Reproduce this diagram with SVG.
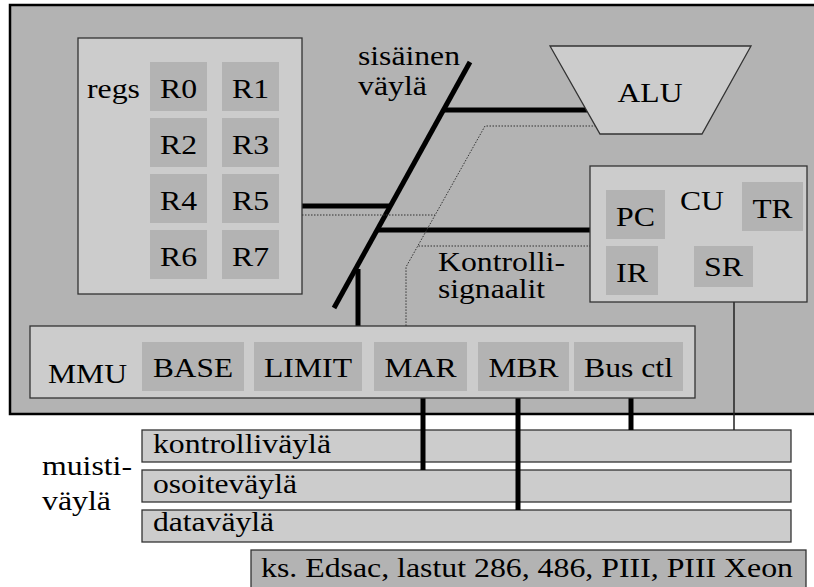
<svg xmlns="http://www.w3.org/2000/svg" width="814" height="587" viewBox="0 0 814 587" font-family="Liberation Serif, Times New Roman, serif" font-size="28">
<rect x="0" y="0" width="814" height="587" fill="#ffffff"/>
<g id="cpu">
<rect x="10" y="5" width="815" height="409" fill="#b3b3b3" stroke="#000" stroke-width="2.5"/>
</g>
<g id="memory-bus">
<g fill="#cccccc" stroke="#333" stroke-width="1.3">
<rect x="142" y="430" width="649" height="32"/>
<rect x="142" y="470" width="649" height="32"/>
<rect x="142" y="510" width="649" height="32"/>
</g>
<text x="153" y="453" textLength="178" lengthAdjust="spacingAndGlyphs">kontrolliv&#228;yl&#228;</text>
<text x="153" y="493" textLength="144" lengthAdjust="spacingAndGlyphs">osoitev&#228;yl&#228;</text>
<text x="153" y="531" textLength="121" lengthAdjust="spacingAndGlyphs">datav&#228;yl&#228;</text>
<text x="42" y="475" textLength="90" lengthAdjust="spacingAndGlyphs">muisti-</text>
<text x="42" y="510" textLength="69" lengthAdjust="spacingAndGlyphs">v&#228;yl&#228;</text>
</g>
<g id="connectors" fill="none">
<g stroke="#000" stroke-width="5">
<line x1="470" y1="62" x2="334" y2="308"/>
<line x1="443" y1="110" x2="592" y2="110"/>
<line x1="300" y1="206" x2="391" y2="206"/>
<line x1="377" y1="230" x2="592" y2="230"/>
<line x1="358" y1="269" x2="358" y2="327"/>
<line x1="631" y1="391" x2="631" y2="430"/>
<line x1="423" y1="391" x2="423" y2="470"/>
<line x1="518" y1="391" x2="518" y2="510"/>
</g>
<g stroke="#333" stroke-width="1" stroke-dasharray="1.5 1.5">
<path d="M596 126 H485 L406 267 V326"/>
<path d="M302 215 H435"/>
<path d="M591 246 H418"/>
</g>
<line x1="734" y1="287" x2="734" y2="430" stroke="#222" stroke-width="1.5"/>
</g>
<g id="regs">
<rect x="78" y="38" width="224" height="256" fill="#cccccc" stroke="#333" stroke-width="1.3"/>
<text x="87" y="98" textLength="53" lengthAdjust="spacingAndGlyphs">regs</text>
<g fill="#b3b3b3">
<rect x="150" y="62" width="57" height="49"/>
<rect x="222" y="62" width="57" height="49"/>
<rect x="150" y="118" width="57" height="49"/>
<rect x="222" y="118" width="57" height="49"/>
<rect x="150" y="174" width="57" height="49"/>
<rect x="222" y="174" width="57" height="49"/>
<rect x="150" y="230" width="57" height="49"/>
<rect x="222" y="230" width="57" height="49"/>
</g>
<g text-anchor="middle">
<text x="178.5" y="98" textLength="37" lengthAdjust="spacingAndGlyphs">R0</text>
<text x="250.5" y="98" textLength="37" lengthAdjust="spacingAndGlyphs">R1</text>
<text x="178.5" y="154" textLength="37" lengthAdjust="spacingAndGlyphs">R2</text>
<text x="250.5" y="154" textLength="37" lengthAdjust="spacingAndGlyphs">R3</text>
<text x="178.5" y="210" textLength="37" lengthAdjust="spacingAndGlyphs">R4</text>
<text x="250.5" y="210" textLength="37" lengthAdjust="spacingAndGlyphs">R5</text>
<text x="178.5" y="266" textLength="37" lengthAdjust="spacingAndGlyphs">R6</text>
<text x="250.5" y="266" textLength="37" lengthAdjust="spacingAndGlyphs">R7</text>
</g>
</g>
<g id="sisainen">
<text x="358" y="65" textLength="102" lengthAdjust="spacingAndGlyphs">sis&#228;inen</text>
<text x="358" y="95" textLength="69" lengthAdjust="spacingAndGlyphs">v&#228;yl&#228;</text>
</g>
<g id="alu">
<polygon points="550,46 751,46 702,134 600,134" fill="#cccccc" stroke="#333" stroke-width="1.3"/>
<text x="650" y="102" text-anchor="middle" textLength="65" lengthAdjust="spacingAndGlyphs">ALU</text>
</g>
<g id="kontrollisignaalit">
<text x="438" y="271" textLength="127" lengthAdjust="spacingAndGlyphs">Kontrolli-</text>
<text x="438" y="298" textLength="107" lengthAdjust="spacingAndGlyphs">signaalit</text>
</g>
<g id="cu">
<rect x="590" y="166" width="217" height="136" fill="#cccccc" stroke="#333" stroke-width="1.3"/>
<g fill="#b3b3b3">
<rect x="606" y="190" width="59" height="49"/>
<rect x="742" y="182" width="61" height="49"/>
<rect x="606" y="246" width="52" height="49"/>
<rect x="694" y="246" width="59" height="41"/>
</g>
<g text-anchor="middle">
<text x="702" y="210" textLength="44" lengthAdjust="spacingAndGlyphs">CU</text>
<text x="635.5" y="226" textLength="39" lengthAdjust="spacingAndGlyphs">PC</text>
<text x="772.5" y="218" textLength="40" lengthAdjust="spacingAndGlyphs">TR</text>
<text x="632" y="282" textLength="32" lengthAdjust="spacingAndGlyphs">IR</text>
<text x="723.5" y="276" textLength="39" lengthAdjust="spacingAndGlyphs">SR</text>
</g>
</g>
<g id="mmu">
<rect x="30" y="326" width="665" height="72" fill="#cccccc" stroke="#333" stroke-width="1.3"/>
<g fill="#b3b3b3">
<rect x="142" y="342" width="102" height="49"/>
<rect x="254" y="342" width="108" height="49"/>
<rect x="374" y="342" width="93" height="49"/>
<rect x="478" y="342" width="91" height="49"/>
<rect x="574" y="342" width="109" height="49"/>
</g>
<text x="48" y="383" textLength="79" lengthAdjust="spacingAndGlyphs">MMU</text>
<g text-anchor="middle">
<text x="193" y="377" textLength="80" lengthAdjust="spacingAndGlyphs">BASE</text>
<text x="308" y="377" textLength="88" lengthAdjust="spacingAndGlyphs">LIMIT</text>
<text x="420.5" y="377" textLength="72" lengthAdjust="spacingAndGlyphs">MAR</text>
<text x="523.5" y="377" textLength="70" lengthAdjust="spacingAndGlyphs">MBR</text>
<text x="628.5" y="377" textLength="89" lengthAdjust="spacingAndGlyphs">Bus ctl</text>
</g>
</g>
<g id="note">
<rect x="251" y="550" width="555" height="40" fill="#b3b3b3" stroke="#333" stroke-width="1.3"/>
<text x="261" y="577" textLength="532" lengthAdjust="spacingAndGlyphs">ks. Edsac, lastut 286, 486, PIII, PIII Xeon</text>
</g>
</svg>
